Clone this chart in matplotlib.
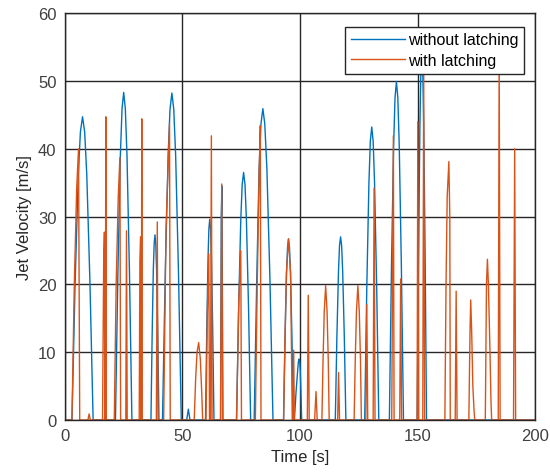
import numpy as np
import matplotlib
matplotlib.use('Agg')
import matplotlib.pyplot as plt

plt.rcParams['font.family'] = ['Liberation Sans', 'DejaVu Sans']

# without latching - blue arcs (t, v)
t_free = [0, 3, 4.35, 5.7, 6.6, 7.5, 8.4, 9.3, 10.65, 12,
          21.5, 22.55, 23.6, 24.3, 25.0, 25.7, 26.4, 27.45, 28.5,
          36.6, 37.1, 37.6, 37.96, 38.3, 38.64, 39.0, 39.5, 40,
          41.5, 42.7, 43.9, 44.7, 45.5, 46.3, 47.1, 48.3, 49.5,
          51.8, 52.5, 53.2,
          59.8, 60.34, 60.88, 61.24, 61.6, 61.96, 62.32, 62.86, 63.4,
          66.2, 66.5, 66.8, 67.2,
          73, 73.9, 74.8, 75.4, 76, 76.6, 77.2, 78.1, 79,
          80.5, 81.6, 82.6, 83.4, 84.2, 85.0, 85.9, 87.2, 88.5,
          93, 93.63, 94.26, 94.68, 95.1, 95.52, 95.94, 96.57, 97.2,
          97.6, 98.3, 99.0, 99.3, 99.6, 99.85, 100.1, 100.4, 100.7,
          115, 115.68, 116.35, 116.8, 117.25, 117.7, 118.15, 118.83, 119.5,
          127.5, 128.4, 129.3, 129.9, 130.5, 131.1, 131.7, 132.6, 133.5,
          138, 138.9, 139.8, 140.4, 141.0, 141.6, 142.2, 143.1, 144,
          149.8, 150.4, 151.0, 151.4, 151.8, 152.2, 152.6, 153.2, 153.8,
          200]
v_free = [0, 0, 20.3, 36.2, 42.5, 44.7, 42.5, 36.2, 20.3, 0,
          0, 21.9, 39.1, 45.9, 48.3, 45.9, 39.1, 21.9, 0,
          0, 12.4, 22.1, 26.0, 27.3, 26.0, 22.1, 12.4, 0,
          0, 21.9, 39.0, 45.8, 48.2, 45.8, 39.0, 21.9, 0,
          0, 1.6, 0,
          0, 13.4, 23.9, 28.2, 29.6, 28.2, 23.9, 13.4, 0,
          0, 30, 34.5, 0,
          0, 16.6, 29.5, 34.7, 36.5, 34.7, 29.5, 16.6, 0,
          0, 20.8, 37.1, 43.7, 45.9, 43.7, 37.1, 20.8, 0,
          0, 12.1, 21.6, 25.4, 26.7, 25.4, 21.6, 12.1, 0,
          0, 4.1, 7.3, 8.6, 9.0, 8.6, 7.3, 4.1, 0,
          0, 12.3, 21.8, 25.7, 27.0, 25.7, 21.8, 12.3, 0,
          0, 19.6, 34.9, 41.1, 43.2, 41.1, 34.9, 19.6, 0,
          0, 22.7, 40.4, 47.5, 49.9, 47.5, 40.4, 22.7, 0,
          0, 24.5, 43.7, 51.4, 54.0, 51.4, 43.7, 24.5, 0,
          0]

# with latching - orange spikes (t, v)
t_latch = [0, 3, 4, 5, 5.8, 6.3,
           9.8, 10.3, 10.8,
           16.0, 16.5, 16.8, 17.0, 17.2, 17.4, 17.6,
           21, 21.8, 22.7, 23.4, 23.7,
           25.9, 26.2, 26.5,
           31.6, 31.9, 32.2, 32.4, 32.5, 32.7, 32.9,
           38.9, 39.3, 39.6,
           42, 43, 44.5, 44.8,
           55, 55.6, 56.2, 56.9, 57.6, 58.2, 58.6,
           60, 60.6, 61.2, 61.5, 61.9, 62.3, 62.6,
           66.2, 66.7, 67.1,
           73, 74, 74.8, 75.1,
           81, 81.8, 82.6, 83.1, 83.4,
           93, 93.6, 94.2, 95.1, 96.0, 96.4, 96.7,
           97.0, 97.3, 97.6,
           103.1, 103.5, 103.9,
           106.2, 106.8, 107.3,
           109.3, 109.8, 110.3, 110.9, 111.5, 112, 112.4,
           116, 116.4, 116.8,
           123, 123.5, 124, 124.6, 125.2, 125.7, 126.1,
           128.0, 128.4, 128.8,
           131.1, 131.5, 131.9,
           139, 139.7, 140,
           142.4, 142.8, 143.2,
           149.8, 150.1, 150.4, 152.2, 152.6, 153.0,
           161.6, 162.1, 162.6, 163.3, 163.7, 163.9,
           166, 166.4, 166.8,
           171.8, 172.3, 172.6, 173.0, 173.5, 174, 174.3,
           178.8, 179.3, 179.7, 180.1, 180.8, 181.2, 181.5,
           184.3, 184.7, 185.1,
           190.8, 191.3, 191.7,
           200]
v_latch = [0, 0, 20, 34, 40, 0,
           0, 0.9, 0,
           0, 23.5, 27.7, 0, 0, 44.7, 0,
           0, 20, 33, 38.7, 0,
           0, 27.9, 0,
           0, 23.3, 27.0, 0, 0, 44.4, 0,
           0, 29.2, 0,
           0, 28, 43.7, 0,
           0, 6, 10, 11.4, 9, 4, 0,
           0, 16, 24.5, 0, 0, 41.9, 0,
           0, 34.8, 0,
           0, 18, 25, 0,
           0, 20, 36, 43.4, 0,
           0, 12, 21.6, 26.7, 21.6, 10, 0,
           0, 10.3, 0,
           0, 18.4, 0,
           0, 4.2, 0,
           0, 9, 16, 19.8, 16, 9, 0,
           0, 7, 0,
           0, 9, 16, 19.8, 16, 9, 0,
           0, 17, 0,
           0, 34.2, 0,
           0, 41.9, 0,
           0, 20.8, 0,
           0, 44, 0, 0, 51, 0,
           0, 20, 33, 38.1, 30, 0,
           0, 19, 0,
           0, 13.1, 17.7, 13.1, 5, 1.5, 0,
           0, 20, 23.7, 20.2, 10, 3, 0,
           0, 55, 0,
           0, 40, 0,
           0]

fig = plt.figure(figsize=(5.5, 4.77), dpi=100)
ax = fig.add_axes([0.118, 0.1174, 0.855, 0.8532])

ax.plot(t_free, v_free, '-', color='#0072BD', lw=1.0, label='without latching')
ax.plot(t_latch, v_latch, '-', color='#D95319', lw=1.0, label='with latching')

ax.set_xlim(0, 200)
ax.set_ylim(0, 60)
ax.set_xticks([0, 50, 100, 150, 200])
ax.set_yticks([0, 10, 20, 30, 40, 50, 60])
ax.grid(True, color='#262626', lw=1.0)
ax.set_axisbelow(True)
ax.tick_params(direction='in', length=0, labelsize=12, colors='#404040', pad=6)
for s in ax.spines.values():
    s.set_color('#262626')
    s.set_linewidth(1.0)

ax.set_xlabel('Time [s]', fontsize=12, color='#262626')
ax.set_ylabel('Jet Velocity [m/s]', fontsize=12, color='#262626')

leg = ax.legend(loc='upper right', bbox_to_anchor=(0.9766, 0.9663), borderaxespad=0,
                fontsize=11.5, fancybox=False, framealpha=1, edgecolor='#262626',
                handlelength=3.4, handletextpad=0.2, labelspacing=0.35, borderpad=0.35)
leg.get_frame().set_linewidth(1.0)

plt.savefig('out.png', dpi=100)
